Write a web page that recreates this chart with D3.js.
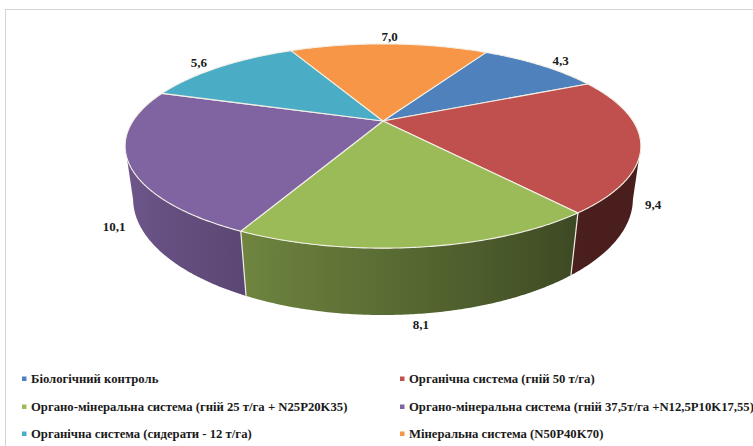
<!DOCTYPE html>
<html>
<head>
<meta charset="utf-8">
<script src="https://cdn.jsdelivr.net/npm/d3@7"></script>
<style>
  html, body { margin: 0; padding: 0; background: #ffffff; }
  svg { display: block; }
</style>
</head>
<body>
<svg id="chart" width="753" height="446"></svg>
<script>
// Fertilisation systems and their values
const categories = [
  "Біологічний контроль",
  "Органічна система (гній 50 т/га)",
  "Органо-мінеральна система (гній 25 т/га + N25P20K35)",
  "Органо-мінеральна система (гній 37,5т/га +N12,5P10K17,55)",
  "Органічна система (сидерати - 12 т/га)",
  "Мінеральна система (N50P40K70)"
];
const values = [4.3, 9.4, 8.1, 10.1, 5.6, 7.0];
const valueLabels = ["4,3", "9,4", "8,1", "10,1", "5,6", "7,0"];
const colors = ["#4f81bd", "#c0504d", "#9bbb59", "#8064a2", "#4bacc6", "#f79646"];

const FONT = "'Liberation Serif', 'Times New Roman', Times, serif";
const svg = d3.select("#chart");
const W = 753, H = 446;
const defs = svg.append("defs");

// chart area frame
svg.append("rect")
  .attr("x", 5.5).attr("y", 9.5)
  .attr("width", W + 10).attr("height", H + 10)
  .attr("fill", "#ffffff")
  .attr("stroke", "#d4d4d4").attr("stroke-width", 1);

// 3D perspective parameters for the tilted pie
const cx = 383, cy = 121;      // apex of the pie on screen
const R = 250;                 // horizontal radius
const B = 96;                  // vertical radius (tilt)
const K = 0.245;               // perspective strength
const DEPTH = 50.5;            // thickness of the pie
const startAngle = 30 * Math.PI / 180;

function proj(a, r, z) {
  const u = r * Math.sin(a), v = -r * Math.cos(a);
  const d = 1 - K * v;
  return [cx + R * u / (d + 0.03 * z), cy + (B * v + z * DEPTH) / d];
}

const pie = d3.pie().sort(null).value(d => d)
  .startAngle(startAngle).endAngle(startAngle + 2 * Math.PI);
const arcs = pie(values).map((p, i) => Object.assign(p, { i }));

const gSide = svg.append("g");
const gTop = svg.append("g");
const gLab = svg.append("g");

// side wall shading: lit from the left
function shade(base, a) {
  const f = Math.max(0.38, Math.min(0.9, 0.58 - 0.3 * Math.sin(a)));
  const c = d3.rgb(base);
  return d3.rgb(c.r * f, c.g * f, c.b * f).formatHex();
}

// visible front wall lies between the two silhouette angles
const visLo = Math.acos(-K), visHi = 2 * Math.PI - Math.acos(-K);
const TAU = 2 * Math.PI;
const sides = [];
arcs.forEach(p => {
  for (const off of [0, TAU, -TAU]) {
    const a0 = Math.max(p.startAngle + off, visLo);
    const a1 = Math.min(p.endAngle + off, visHi);
    if (a1 > a0) sides.push({ a0, a1, i: p.i });
  }
});
sides.forEach((s, k) => {
  const x0 = proj(s.a0, 1, 0)[0], x1 = proj(s.a1, 1, 0)[0];
  const grad = defs.append("linearGradient")
    .attr("id", "side" + k).attr("gradientUnits", "userSpaceOnUse")
    .attr("x1", x0).attr("y1", 0).attr("x2", x1).attr("y2", 0);
  const n = 12;
  for (let j = 0; j <= n; j++) {
    const a = s.a0 + (s.a1 - s.a0) * j / n;
    const off = (proj(a, 1, 0)[0] - x0) / (x1 - x0);
    grad.append("stop").attr("offset", Math.max(0, Math.min(1, off)))
      .attr("stop-color", shade(colors[s.i], a));
  }
  const n2 = Math.max(2, Math.ceil((s.a1 - s.a0) / (Math.PI / 360)));
  const top = d3.range(n2 + 1).map(j => proj(s.a0 + (s.a1 - s.a0) * j / n2, 1, 0));
  const bot = d3.range(n2 + 1).map(j => proj(s.a0 + (s.a1 - s.a0) * j / n2, 1, 1)).reverse();
  gSide.append("path")
    .attr("d", "M" + top.concat(bot).join("L") + "Z")
    .attr("fill", `url(#side${k})`);
});

// white seams where slices meet on the front wall
const seams = arcs.map(p => p.startAngle % TAU).filter(a => a > visLo && a < visHi);
gSide.selectAll("line.seam").data(seams).join("line")
  .attr("class", "seam")
  .attr("x1", a => proj(a, 1, 0)[0]).attr("y1", a => proj(a, 1, 0)[1])
  .attr("x2", a => proj(a, 1, 1)[0]).attr("y2", a => proj(a, 1, 1)[1])
  .attr("stroke", "#eeeee6").attr("stroke-width", 1.2);

// top faces
function topPath(p) {
  const n = Math.max(2, Math.ceil((p.endAngle - p.startAngle) / (Math.PI / 360)));
  let d = `M${cx},${cy}`;
  for (let j = 0; j <= n; j++) {
    const a = p.startAngle + (p.endAngle - p.startAngle) * j / n;
    d += `L${proj(a, 1, 0)}`;
  }
  return d + "Z";
}
gTop.selectAll("path").data(arcs).join("path")
  .attr("d", topPath)
  .attr("fill", p => colors[p.i])
  .attr("stroke", "#f2efe6").attr("stroke-width", 1.1)
  .attr("stroke-linejoin", "round");

// value labels: behind slices sit past the rim, front ones below the wall
gLab.selectAll("text").data(arcs).join("text")
  .attr("text-anchor", "middle")
  .attr("dominant-baseline", "central")
  .attr("font-family", FONT)
  .attr("font-weight", "bold")
  .attr("font-size", 13)
  .attr("fill", "#1a1a1a")
  .attr("transform", p => {
    const m = (p.startAngle + p.endAngle) / 2;
    const u = Math.sin(m), v = -Math.cos(m);
    let pt;
    if (v > 0.1) {
      const b = proj(m, 1, 1);
      const hw = valueLabels[p.i].length * 3.3;
      pt = [b[0] + u * (hw + 11), b[1] + 7 + 4 * v];
    } else {
      pt = proj(m, 1.15, 0);
      pt = [pt[0], pt[1] + 2];
    }
    return `translate(${pt[0]},${pt[1]})`;
  })
  .text(p => valueLabels[p.i]);

// legend in two columns
const legend = svg.append("g");
const colX = [22, 400], rowY = [379, 407, 434];
categories.forEach((c, i) => {
  const x = colX[i % 2], y = rowY[Math.floor(i / 2)];
  legend.append("rect").attr("x", x).attr("y", y - 2.5).attr("width", 4.5).attr("height", 4.5)
    .attr("fill", colors[i]);
  legend.append("text").attr("x", x + 9).attr("y", y)
    .attr("dominant-baseline", "central")
    .attr("font-family", FONT)
    .attr("font-weight", "bold")
    .attr("font-size", 12.7)
    .attr("fill", "#1a1a1a")
    .text(c);
});
</script>
</body>
</html>
